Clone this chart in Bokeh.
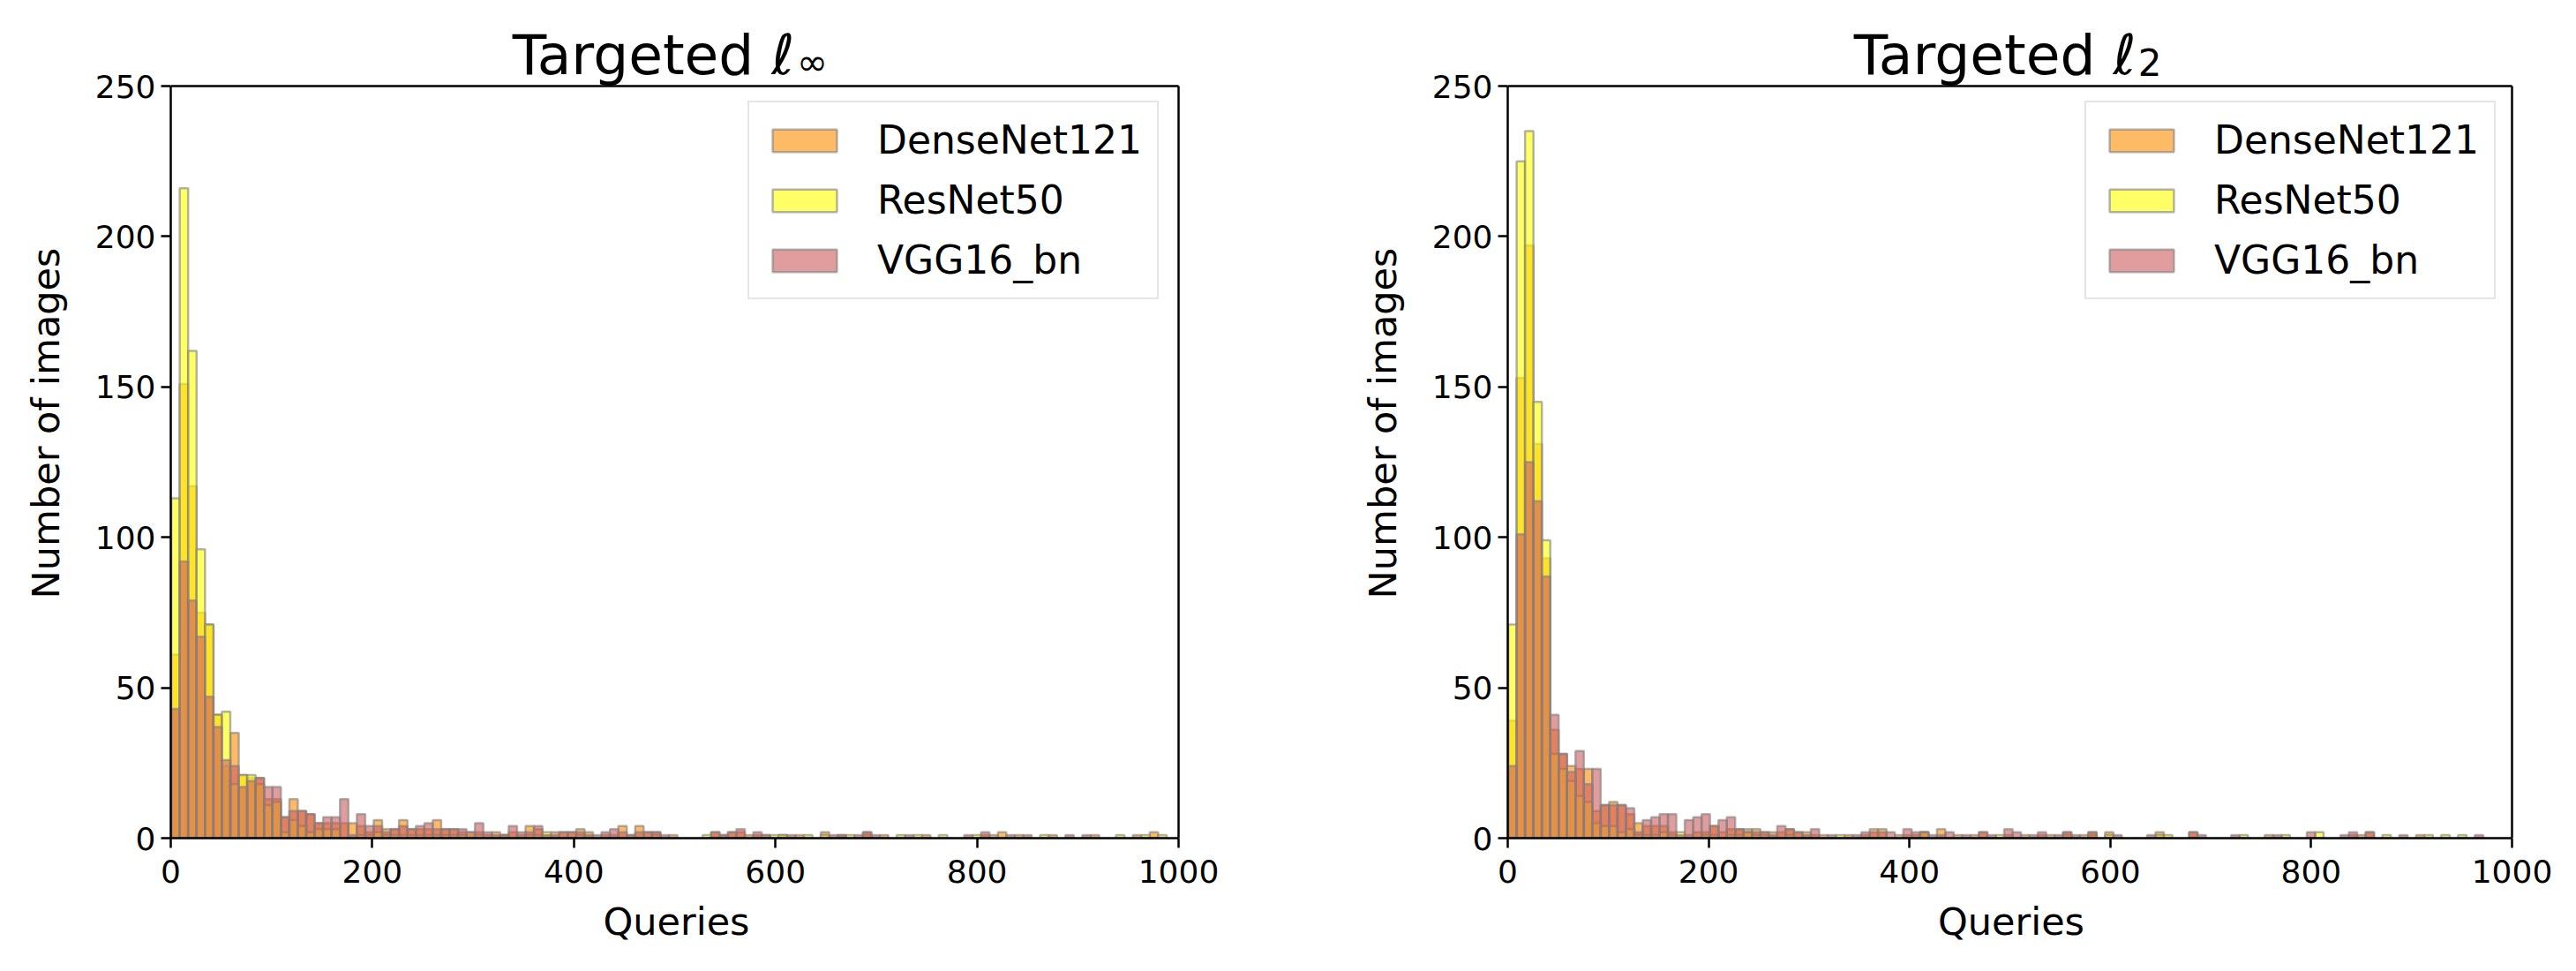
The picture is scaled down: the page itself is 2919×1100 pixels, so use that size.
import numpy as np
from bokeh.plotting import figure
from bokeh.models import ColumnDataSource, Legend, LegendItem, Label, FixedTicker, Range1d
from bokeh.layouts import row
from bokeh.embed import file_html
from bokeh.resources import INLINE

# ---------------- data ----------------
series = ["DenseNet121", "ResNet50", "VGG16_bn"]
colors = ["darkorange", "yellow", "indianred"]

bin_start = 0.5
bin_width = 8.37
x_max = 1000
y_max = 250
x_ticks = [0, 200, 400, 600, 800, 1000]
y_ticks = [0, 50, 100, 150, 200, 250]

# Targeted l_inf : counts per bin
linf_densenet = [61, 151, 117, 75, 71, 41, 24, 35, 21, 20,
                 20, 13, 13, 7, 13, 9, 8, 5, 5, 5,
                 5, 5, 4, 2, 6, 3, 3, 6, 3, 3,
                 3, 6, 3, 3, 2, 1, 2, 1, 2, 1,
                 2, 1, 4, 3, 1, 2, 2, 2, 3, 2,
                 0, 1, 1, 4, 1, 4, 2, 2, 0, 1,
                 0, 0, 0, 0, 2, 1, 2, 2, 1, 1,
                 0, 0, 1, 0, 1, 0, 0, 2, 0, 1,
                 0, 0, 2, 0, 1, 0, 0, 0, 0, 1,
                 0, 0, 0, 0, 0, 0, 1, 1, 2, 0,
                 1, 0, 0, 0, 1, 0, 0, 0, 0, 1,
                 0, 0, 0, 0, 1, 0, 2, 0, 0]
linf_resnet = [113, 216, 162, 96, 71, 41, 42, 18, 21, 21,
               18, 11, 12, 2, 6, 4, 2, 3, 3, 3,
               0, 0, 1, 1, 2, 1, 1, 1, 1, 1,
               1, 1, 1, 1, 1, 2, 1, 0, 0, 1,
               0, 0, 1, 1, 2, 0, 0, 0, 1, 0,
               0, 0, 0, 0, 0, 0, 0, 1, 0, 0,
               0, 0, 0, 1, 0, 0, 0, 0, 0, 0,
               1, 1, 1, 0, 0, 1, 0, 1, 0, 0,
               1, 0, 1, 0, 0, 0, 1, 0, 1, 0,
               0, 1, 0, 0, 0, 1, 0, 0, 0, 0,
               0, 0, 0, 1, 0, 0, 0, 0, 0, 0,
               0, 0, 1, 0, 0, 1, 0, 1, 0]
linf_vgg = [43, 92, 79, 67, 47, 37, 26, 24, 17, 19,
            20, 17, 17, 7, 9, 9, 8, 5, 7, 7,
            13, 1, 8, 4, 4, 2, 3, 4, 3, 4,
            5, 3, 3, 3, 3, 2, 5, 2, 1, 1,
            4, 2, 2, 4, 1, 1, 2, 2, 2, 1,
            1, 2, 3, 2, 1, 2, 2, 2, 1, 0,
            0, 0, 0, 0, 2, 1, 2, 3, 0, 2,
            1, 0, 0, 1, 0, 0, 0, 0, 1, 1,
            0, 1, 2, 1, 0, 0, 0, 1, 0, 0,
            0, 0, 0, 0, 1, 0, 2, 0, 0, 1,
            0, 1, 0, 0, 0, 0, 1, 0, 1, 0,
            0, 0, 0, 0, 0, 0, 0, 0, 0]

# Targeted l_2 : counts per bin
l2_densenet = [39, 153, 197, 131, 93, 36, 28, 24, 23, 23,
               9, 11, 12, 11, 8, 5, 4, 4, 4, 2,
               0, 1, 2, 2, 4, 2, 3, 3, 3, 3,
               2, 2, 2, 3, 2, 2, 1, 1, 0, 0,
               1, 0, 1, 3, 3, 0, 1, 1, 1, 2,
               0, 3, 0, 1, 0, 1, 2, 0, 0, 1,
               0, 1, 0, 1, 1, 0, 2, 0, 1, 2,
               0, 2, 0, 0, 0, 0, 0, 2, 0, 0,
               0, 2, 0, 0, 0, 0, 0, 0, 0, 0,
               1, 0, 0, 0, 0, 0, 0, 0, 0, 0,
               1, 1, 2, 0, 0, 0, 0, 0, 1, 0,
               0, 0, 0, 0, 0, 0, 0, 0, 0]
l2_resnet = [71, 225, 235, 145, 99, 28, 23, 19, 14, 12,
             5, 4, 4, 2, 3, 1, 1, 1, 2, 1,
             2, 0, 0, 1, 1, 0, 1, 1, 2, 1,
             1, 0, 0, 1, 0, 0, 0, 0, 0, 1,
             0, 0, 0, 0, 0, 0, 0, 0, 0, 2,
             0, 0, 0, 0, 0, 0, 0, 0, 1, 0,
             0, 0, 0, 0, 0, 0, 1, 0, 0, 1,
             0, 1, 0, 0, 0, 0, 0, 1, 1, 0,
             0, 0, 0, 0, 0, 0, 0, 1, 0, 0,
             0, 0, 1, 0, 0, 0, 2, 0, 0, 0,
             0, 0, 0, 0, 1, 0, 0, 0, 0, 1,
             0, 1, 0, 1, 0, 0, 0, 0, 0]
l2_vgg = [24, 101, 125, 112, 87, 41, 28, 22, 29, 18,
          23, 11, 11, 11, 10, 2, 6, 7, 8, 8,
          1, 6, 7, 8, 4, 6, 7, 3, 2, 2,
          2, 1, 4, 3, 2, 1, 3, 0, 1, 0,
          0, 1, 2, 2, 2, 2, 0, 3, 2, 2,
          1, 1, 2, 0, 1, 0, 2, 1, 0, 3,
          2, 0, 1, 2, 0, 1, 2, 1, 0, 2,
          0, 0, 1, 0, 0, 0, 1, 0, 0, 0,
          0, 2, 1, 0, 0, 0, 1, 0, 0, 0,
          0, 1, 0, 0, 0, 2, 0, 0, 0, 1,
          2, 0, 2, 0, 0, 0, 1, 0, 0, 0,
          0, 0, 0, 0, 0, 1, 0, 0, 0]

FONT = "DejaVu Sans"
PX_PER_Y = 852 / 250.0        # vertical scale of the data area
FRAME_H = 940                 # frame extends above y=250 to hold the title


def make_panel(counts_list, title_main, title_sub, split_x, px_per_x,
               frame_w, border_l, border_r):
    n_bins = len(counts_list[0])
    edges = bin_start + bin_width * np.arange(n_bins + 1)
    p = figure(frame_width=frame_w, frame_height=FRAME_H,
               min_border_left=border_l, min_border_right=border_r,
               min_border_top=9, min_border_bottom=151,
               x_range=Range1d(0, frame_w / px_per_x),
               y_range=Range1d(0, FRAME_H / PX_PER_Y),
               output_backend="svg", toolbar_location=None)
    p.background_fill_color = "white"
    p.border_fill_color = "white"
    p.outline_line_color = None
    p.xgrid.visible = False
    p.ygrid.visible = False

    renderers = []
    for name, col, counts in zip(series, colors, counts_list):
        c = np.array(counts)
        nz = c > 0
        src = ColumnDataSource(dict(left=edges[:-1][nz], right=edges[1:][nz], top=c[nz]))
        r = p.quad(left="left", right="right", top="top", bottom=0, source=src,
                   fill_color=col, fill_alpha=0.6,
                   line_color="gray", line_alpha=0.6, line_width=2.5)
        renderers.append(r)

    # top and right spines of the axes box
    p.segment(x0=[0, x_max], y0=[y_max, 0], x1=[x_max, x_max], y1=[y_max, y_max],
              line_color="black", line_width=2.5)

    legend = Legend(items=[LegendItem(label=n, renderers=[r]) for n, r in zip(series, renderers)],
                    location=(654, 610))
    legend.label_text_font = FONT
    legend.label_text_font_size = "44px"
    legend.label_text_color = "black"
    legend.glyph_width = 91
    legend.glyph_height = 32
    legend.label_height = 50
    legend.label_standoff = 37
    legend.spacing = 17
    legend.padding = 17
    legend.margin = 0
    legend.border_line_color = "#cccccc"
    legend.border_line_width = 2.5
    legend.background_fill_alpha = 0.8
    p.add_layout(legend)

    p.xaxis.ticker = FixedTicker(ticks=x_ticks)
    p.yaxis.ticker = FixedTicker(ticks=y_ticks)
    p.xaxis.bounds = (0, x_max)
    p.yaxis.bounds = (0, y_max)
    p.xaxis.axis_label = "Queries"
    p.yaxis.axis_label = "Number of images"
    for ax in [p.xaxis[0], p.yaxis[0]]:
        ax.major_label_text_font = FONT
        ax.major_label_text_font_size = "36px"
        ax.major_label_text_color = "black"
        ax.axis_label_text_font = FONT
        ax.axis_label_text_font_size = "43px"
        ax.axis_label_text_font_style = "normal"
        ax.axis_label_text_color = "black"
        ax.major_tick_out = 11
        ax.major_tick_in = 0
        ax.minor_tick_out = 0
        ax.minor_tick_in = 0
        ax.axis_line_width = 2.5
        ax.axis_line_color = "black"
        ax.major_tick_line_width = 2.5
        ax.major_tick_line_color = "black"
    p.yaxis.major_label_standoff = 6
    p.xaxis.major_label_standoff = 13
    p.xaxis.axis_label_standoff = 16
    p.yaxis.axis_label_standoff = 28

    p.add_layout(Label(x=split_x, y=260.4, text=title_main, text_align="right",
                       text_baseline="alphabetic", text_font=FONT,
                       text_font_size="63px", text_color="black"))
    p.add_layout(Label(x=split_x + 2, y=258.0, text=title_sub, text_align="left",
                       text_baseline="alphabetic", text_font=FONT,
                       text_font_size="42px", text_color="black"))
    return p


p1 = make_panel([linf_densenet, linf_resnet, linf_vgg], "Targeted ℓ", "∞",
                619.0, 1.142, 1146, 193, 176)
p2 = make_panel([l2_densenet, l2_resnet, l2_vgg], "Targeted ℓ", "2",
                625.6, 1.138, 1141, 193, 70)

layout = row(p1, p2)
open("out.html", "w").write(file_html(layout, INLINE))
